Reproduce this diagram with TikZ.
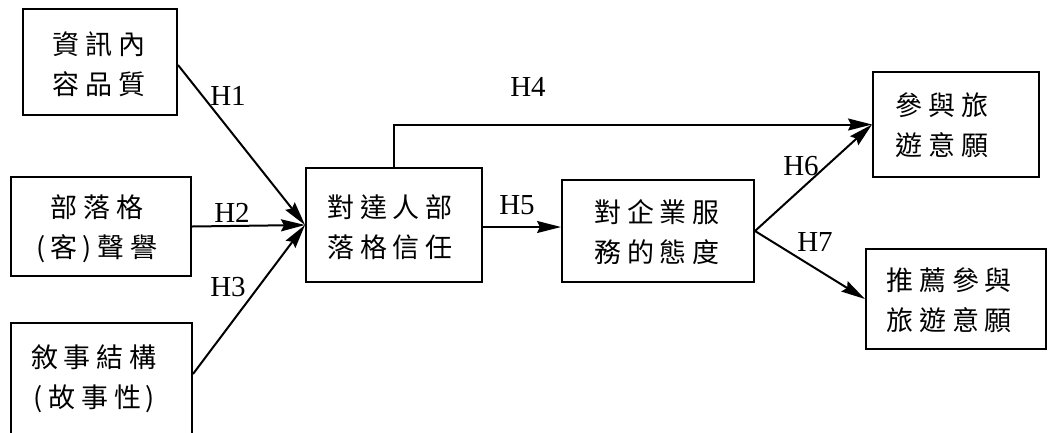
\documentclass[tikz,border=0pt]{standalone}
\usepackage{fontspec}
\setmainfont{Liberation Serif}
\newfontfamily\cjk{Noto Sans CJK TC}
\usetikzlibrary{arrows.meta,calc}
\newcommand\ls{\kern6pt}
\begin{document}
\begin{tikzpicture}[x=1pt,y=-1pt,
  box/.style={draw,line width=2pt,inner sep=0pt,rectangle},
  arr/.style={line width=2pt,-{Stealth[length=24pt,width=12pt,inset=3pt]}},
  hl/.style={font=\fontsize{29}{30}\selectfont,inner sep=0pt},
  txt/.style={font=\cjk\fontsize{27}{40}\selectfont,align=center,inner sep=0pt}]
\path[use as bounding box,fill=white] (0,0) rectangle (1048,432);
\clip (0,0) rectangle (1048,432);
% boxes
\node[box,minimum width=154pt,minimum height=106pt] (A) at (100,62) {};
\node[box,minimum width=180pt,minimum height=99pt] (B) at (101,226.5) {};
\node[box,minimum width=181pt,minimum height=117pt] (C) at (101.5,381.5) {};
\node[box,minimum width=176pt,minimum height=114pt] (D) at (394,225) {};
\node[box,minimum width=192pt,minimum height=102pt] (E) at (658,231) {};
\node[box,minimum width=166pt,minimum height=105pt] (F) at (956,124.5) {};
\node[box,minimum width=180pt,minimum height=100pt] (G) at (956,299) {};
% texts
\node[txt] (At) at (99,64) {資\ls 訊\ls 內\\容\ls 品\ls 質};
\node[txt] (Bt) at (97,229) {部\ls 落\ls 格\\(\kern5pt 客\kern5pt)\ls 聲\ls 譽};
\node[txt] (Ct) at (94,379) {敘\ls 事\ls 結\ls 構\\(\kern6pt 故\ls 事\ls 性\kern4pt)};
\node[txt] (Dt) at (390,227) {對\ls 達\ls 人\ls 部\\落\ls 格\ls 信\ls 任};
\node[txt] (Et) at (657,232) {對\ls 企\ls 業\ls 服\\務\ls 的\ls 態\ls 度};
\node[txt] (Ft) at (942,125.5) {參\ls 與\ls 旅\\遊\ls 意\ls 願};
\node[txt] (Gt) at (949,300.5) {推\ls 薦\ls 參\ls 與\\旅\ls 遊\ls 意\ls 願};
% connectors
\draw[arr] ($(A.east)+(0,3)$) -- (D.west);
\draw[arr] (B.east) -- (D.west);
\draw[arr] ($(C.north east)+(0,52)$) -- (D.west);
\draw[arr] (D.north) |- (F.west);
\draw[arr] ($(D.east)+(0,2)$) -- ($(E.west|-D.east)+(0,2)$);
\draw[arr] (E.east) -- (F.west);
\draw[arr] (E.east) -- (G.west);
% labels
\node[hl] (H1) at (228,96) {H1};
\node[hl] (H2) at (232,213) {H2};
\node[hl] (H3) at (228,287) {H3};
\node[hl] (H4) at (528,87) {H4};
\node[hl] (H5) at (517,205) {H5};
\node[hl] (H6) at (801,166) {H6};
\node[hl] (H7) at (815,242) {H7};
\end{tikzpicture}
\end{document}
